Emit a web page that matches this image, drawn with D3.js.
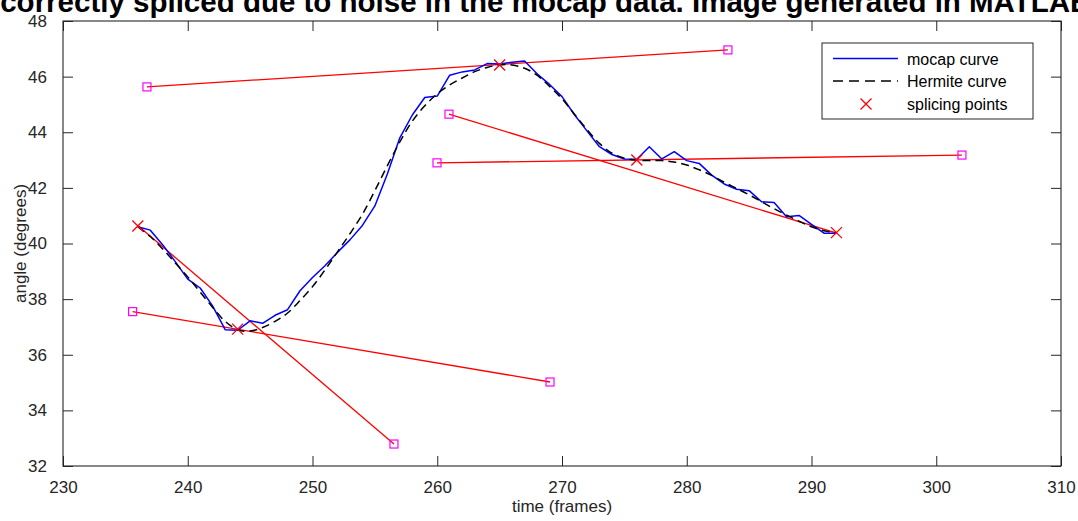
<!DOCTYPE html>
<html>
<head>
<meta charset="utf-8">
<script src="https://cdn.jsdelivr.net/npm/d3@7"></script>
<style>
  html, body { margin: 0; padding: 0; background: #fff; overflow: hidden; }
  svg { display: block; font-family: "Liberation Sans", Arial, Helvetica, sans-serif; }
</style>
</head>
<body>
<svg id="chart" width="1078" height="521"></svg>
<script>
// Mocap joint angle, one sample per frame
const mocapFrames = d3.range(236, 293);
const mocapAngles = [
  40.60, 40.48, 39.95, 39.35, 38.72, 38.40, 37.75, 36.90, 36.88, 37.22,
  37.13, 37.42, 37.62, 38.30, 38.78, 39.20, 39.68, 40.13, 40.65, 41.35,
  42.50, 43.80, 44.62, 45.25, 45.30, 46.05, 46.17, 46.24, 46.47, 46.45,
  46.52, 46.56, 46.10, 45.72, 45.28, 44.63, 44.05, 43.48, 43.20, 43.04,
  43.03, 43.48, 43.04, 43.30, 42.98, 42.88, 42.46, 42.14, 41.95, 41.90,
  41.50, 41.47, 40.96, 41.01, 40.69, 40.37, 40.37
];

// Spliced Hermite curve sampled per frame
const hermiteFrames = d3.range(236, 293);
const hermiteAngles = [
  40.60, 40.25, 39.80, 39.30, 38.80, 38.25, 37.70, 37.20, 36.90, 36.85,
  36.98, 37.20, 37.50, 37.95, 38.45, 39.05, 39.70, 40.35, 41.05, 41.90,
  42.80, 43.65, 44.40, 44.95, 45.38, 45.70, 45.95, 46.18, 46.33, 46.42,
  46.42, 46.30, 46.05, 45.65, 45.20, 44.65, 44.10, 43.60, 43.25, 43.07,
  43.00, 42.98, 42.98, 42.93, 42.82, 42.65, 42.45, 42.20, 41.98, 41.75,
  41.50, 41.25, 41.02, 40.80, 40.60, 40.46, 40.39
];

// Splicing points
const spliceFrames = [236, 244, 265, 276, 292];
const spliceAngles = [40.63, 36.92, 46.42, 43.00, 40.39];

// Tangent handle segments: start (frame, angle) -> end (frame, angle)
const handleStartFrames = [236.73, 260.94, 259.98, 236.04, 235.58];
const handleStartAngles = [45.63, 44.65, 42.90, 40.63, 37.55];
const handleEndFrames   = [283.30, 291.90, 302.06, 256.53, 269.04];
const handleEndAngles   = [46.96, 40.39, 43.18, 32.79, 35.02];

// Handle end markers (squares)
const handleMarkFrames = [236.73, 283.30, 260.94, 259.98, 302.06, 256.53, 235.58, 269.04];
const handleMarkAngles = [45.63, 46.96, 44.65, 42.90, 43.18, 32.79, 37.55, 35.02];

const xTicks = [230, 240, 250, 260, 270, 280, 290, 300, 310];
const yTicks = [32, 34, 36, 38, 40, 42, 44, 46, 48];

const legendLabels = ["mocap curve", "Hermite curve", "splicing points"];
const titleText = "Incorrectly spliced due to noise in the mocap data. Image generated in MATLAB";
const xLabel = "time (frames)";
const yLabel = "angle (degrees)";

const W = 1078, H = 521;
const margin = { top: 21, right: 17, bottom: 55, left: 63 };
const iw = W - margin.left - margin.right;
const ih = H - margin.top - margin.bottom;
const axisColor = "#262626";
const tickLen = 10;

const svg = d3.select("#chart");
const g = svg.append("g").attr("transform", `translate(${margin.left},${margin.top})`);

const x = d3.scaleLinear().domain([230, 310]).range([0, iw]);
const y = d3.scaleLinear().domain([32, 48]).range([ih, 0]);

// Axes with inward ticks on all four sides
const fontSize = 17;
const xAxisB = d3.axisBottom(x).tickValues(xTicks).tickSizeInner(-tickLen).tickSizeOuter(0).tickPadding(15);
const xAxisT = d3.axisTop(x).tickValues(xTicks).tickSizeInner(-tickLen).tickSizeOuter(0).tickFormat("");
const yAxisL = d3.axisLeft(y).tickValues(yTicks).tickSizeInner(-tickLen).tickSizeOuter(0).tickPadding(16);
const yAxisR = d3.axisRight(y).tickValues(yTicks).tickSizeInner(-tickLen).tickSizeOuter(0).tickFormat("");

function styleAxis(sel) {
  sel.select(".domain").remove();
  sel.selectAll(".tick line").attr("stroke", axisColor).attr("stroke-width", 1);
  sel.selectAll(".tick text").attr("fill", axisColor)
    .style("font-size", fontSize + "px")
    .style("font-family", "'Liberation Sans', Arial, sans-serif");
}
g.append("g").attr("transform", `translate(0,${ih})`).call(xAxisB).call(styleAxis);
g.append("g").call(xAxisT).call(styleAxis);
g.append("g").call(yAxisL).call(styleAxis);
g.append("g").attr("transform", `translate(${iw},0)`).call(yAxisR).call(styleAxis);

// Plot box
g.append("rect").attr("x", 0).attr("y", 0).attr("width", iw).attr("height", ih)
  .attr("fill", "none").attr("stroke", axisColor).attr("stroke-width", 1.1);

// Tangent handles
g.append("g").selectAll("line")
  .data(handleStartFrames.map((f, i) => i))
  .join("line")
  .attr("x1", i => x(handleStartFrames[i]))
  .attr("y1", i => y(handleStartAngles[i]))
  .attr("x2", i => x(handleEndFrames[i]))
  .attr("y2", i => y(handleEndAngles[i]))
  .attr("stroke", "#ff0000").attr("stroke-width", 1.3);

// Mocap curve
const mocapLine = d3.line().x(d => x(d[0])).y(d => y(d[1]));
g.append("path")
  .datum(mocapFrames.map((f, i) => [f, mocapAngles[i]]))
  .attr("d", mocapLine)
  .attr("fill", "none").attr("stroke", "#0000ff").attr("stroke-width", 1.5)
  .attr("stroke-linejoin", "round");

// Hermite curve
const hermiteLine = d3.line().curve(d3.curveCatmullRom).x(d => x(d[0])).y(d => y(d[1]));
g.append("path")
  .datum(hermiteFrames.map((f, i) => [f, hermiteAngles[i]]))
  .attr("d", hermiteLine)
  .attr("fill", "none").attr("stroke", "#000").attr("stroke-width", 1.5)
  .attr("stroke-dasharray", "8,5");

// Handle markers
const sq = 8;
g.append("g").selectAll("rect")
  .data(handleMarkFrames.map((f, i) => i))
  .join("rect")
  .attr("x", i => x(handleMarkFrames[i]) - sq / 2)
  .attr("y", i => y(handleMarkAngles[i]) - sq / 2)
  .attr("width", sq).attr("height", sq)
  .attr("fill", "none").attr("stroke", "#ff00ff").attr("stroke-width", 1.2);

// Splicing point markers
function crossPath(cx, cy, r) {
  return `M${cx - r},${cy - r}L${cx + r},${cy + r}M${cx - r},${cy + r}L${cx + r},${cy - r}`;
}
g.append("g").selectAll("path")
  .data(spliceFrames.map((f, i) => i))
  .join("path")
  .attr("d", i => crossPath(x(spliceFrames[i]), y(spliceAngles[i]), 5.5))
  .attr("stroke", "#ff0000").attr("stroke-width", 1.3).attr("fill", "none");

// Legend
const lg = svg.append("g");
lg.append("rect").attr("x", 822).attr("y", 43).attr("width", 211).attr("height", 76)
  .attr("fill", "#fff").attr("stroke", axisColor).attr("stroke-width", 1);
const rowY = [58.5, 81, 104];
lg.append("line").attr("x1", 833).attr("x2", 898).attr("y1", rowY[0]).attr("y2", rowY[0])
  .attr("stroke", "#0000ff").attr("stroke-width", 1.5);
lg.append("line").attr("x1", 833).attr("x2", 898).attr("y1", rowY[1]).attr("y2", rowY[1])
  .attr("stroke", "#000").attr("stroke-width", 1.5).attr("stroke-dasharray", "10,6");
lg.append("path").attr("d", crossPath(866, rowY[2], 5.5))
  .attr("stroke", "#ff0000").attr("stroke-width", 1.3).attr("fill", "none");
lg.selectAll("text").data(legendLabels).join("text")
  .attr("x", 907).attr("y", (d, i) => rowY[i] + 6)
  .attr("fill", "#000").style("font-size", "16px").text(d => d);

// Axis labels
svg.append("text").attr("x", margin.left + iw / 2).attr("y", 512)
  .attr("text-anchor", "middle").attr("fill", axisColor).style("font-size", "17px").text(xLabel);
svg.append("text").attr("transform", `translate(26,${margin.top + ih / 2}) rotate(-90)`)
  .attr("text-anchor", "middle").attr("fill", axisColor).style("font-size", "17px").text(yLabel);

// Title (wider than the figure, so it runs past both edges)
svg.append("text").attr("x", -26).attr("y", 12)
  .attr("text-anchor", "start").attr("fill", "#000")
  .style("font-size", "29.5px").style("font-weight", "bold").text(titleText);
</script>
</body>
</html>
